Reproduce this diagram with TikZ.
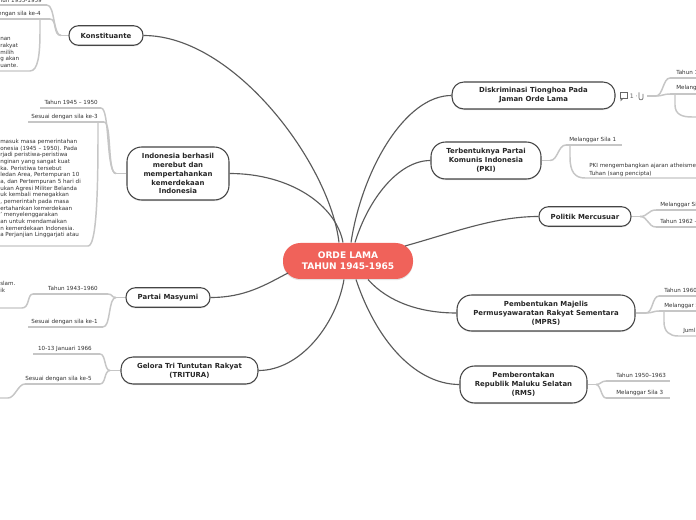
\documentclass[tikz,border=0pt]{standalone}
\usepackage{fontspec}
\setmainfont{DejaVu Sans}
\usetikzlibrary{calc,shadows}
\definecolor{nodeline}{HTML}{454545}
\definecolor{conncol}{HTML}{5A5A5A}
\definecolor{leafc}{HTML}{C6C6C6}
\definecolor{leaft}{HTML}{333333}
\definecolor{central}{HTML}{F0625A}
\newcommand{\mainfnt}{\fontsize{5.2}{6.7}\selectfont\bfseries}
\newcommand{\leaffnt}{\fontsize{4.2}{5}\selectfont}
\begin{document}
\begin{tikzpicture}[x=0.75pt,y=-0.75pt,
 topic/.style={draw=nodeline, line width=0.8pt, fill=white, rounded corners=7pt, align=center, font=\mainfnt, text=black!85, inner sep=0pt, drop shadow={shadow xshift=0pt, shadow yshift=-0.9pt, opacity=0.22}},
 conn/.style={draw=conncol, line width=0.85pt},
 leafline/.style={draw=leafc, line width=1.1pt},
 leaf/.style={font=\leaffnt, text=leaft, inner sep=0pt},
 icon/.style={draw=black!60, line width=0.5pt},
]
\clip (0,0) rectangle (696,520);
\fill[white] (0,0) rectangle (696,520);

% ---------- topics ----------
\node[topic, draw=none, fill=central, text=white, font=\fontsize{6.8}{8.2}\selectfont\bfseries, minimum width=97.5pt, minimum height=27pt, rounded corners=13pt] (C) at (348,261) {ORDE LAMA\\TAHUN 1945-1965};
\node[topic, minimum width=55.5pt, minimum height=14.6pt] (K) at (106,35.5) {Konstituante};
\node[topic, minimum width=76.5pt, minimum height=39.75pt, rounded corners=11pt] (I) at (178,173.5) {Indonesia berhasil\\merebut dan\\mempertahankan\\kemerdekaan\\Indonesia};
\node[topic, minimum width=63pt, minimum height=14.6pt] (M) at (168,297.5) {Partai Masyumi};
\node[topic, minimum width=102.75pt, minimum height=20.25pt, rounded corners=9pt] (T) at (189.5,370.5) {Gelora Tri Tuntutan Rakyat\\(TRITURA)};
\node[topic, minimum width=122.25pt, minimum height=20.25pt, rounded corners=9pt] (D) at (533.5,95.5) {Diskriminasi Tionghoa Pada\\Jaman Orde Lama};
\node[topic, minimum width=82.5pt, minimum height=27.75pt, rounded corners=11pt] (P) at (486,160.5) {Terbentuknya Partai\\Komunis Indonesia\\(PKI)};
\node[topic, minimum width=69pt, minimum height=14.6pt] (PM) at (585,216.5) {Politik Mercusuar};
\node[topic, minimum width=133.5pt, minimum height=27pt, rounded corners=11pt] (MP) at (546,313) {Pembentukan Majelis\\Permusyawaratan Rakyat Sementara\\(MPRS)};
\node[topic, minimum width=95.25pt, minimum height=27.75pt, rounded corners=11pt] (R) at (523.5,384.5) {Pemberontakan\\Republik Maluku Selatan\\(RMS)};

% ---------- main connectors ----------
\draw[conn] ($(C.north)+(-9,0)$) .. controls (330,165) and (235,35.5) .. (K.east);
\draw[conn] ($(C.north)+(-5,0)$) .. controls (336,205) and (290,173.5) .. (I.east);
\draw[conn] ($(C.center)+(-60,12)$) .. controls (265,285) and (245,297.5) .. (M.east);
\draw[conn] ($(C.south)+(-4,0)$) .. controls (336,325) and (300,370.5) .. (T.east);
\draw[conn] ($(C.north)+(3,0)$) .. controls (362,170) and (405,95.5) .. (D.west);
\draw[conn] ($(C.north)+(7,0)$) .. controls (368,200) and (398,160.5) .. (P.west);
\draw[conn] ($(C.center)+(57,-15)$) .. controls (455,232) and (495,216.5) .. (PM.west);
\draw[conn] ($(C.south)+(20,0)$) .. controls (388,302) and (420,313) .. (MP.west);
\draw[conn] ($(C.south)+(8,0)$) .. controls (378,345) and (418,384.5) .. (R.west);

% ---------- Konstituante ----------
\draw[leafline] (K.west) -- (61,35.5) coordinate (Ks);
\coordinate (K1e) at (47,5); \coordinate (K2e) at (50,19);
\draw[leafline] (-5,5) -- (K1e);
\draw[leafline] (-5,19) -- (K2e);
\draw[leafline] (Ks) .. controls (53,35.5) and (55,5) .. (K1e);
\draw[leafline] (Ks) .. controls (53,35.5) and (57,19) .. (K2e);
\draw[leafline] (40,19) -- (40,31) .. controls (40,55) and (38,71) .. (30,71) -- (-5,71);
\node[leaf, anchor=base east] (K1) at (42,2.5) {Tahun 1955-1959};
\node[leaf, anchor=base east] (K2) at (41,15.5) {Sesuai dengan sila ke-4};
\node[leaf, anchor=north west, align=left] (K3) at (0,37.5) {nan\\rakyat\\milih\\g akan\\uante.};

% ---------- Indonesia ----------
\draw[leafline] (I.west) -- (116,173.5) coordinate (Is);
\draw[leafline] (40,108) -- (101,108) coordinate (I1e);
\draw[leafline] (28,122) -- (104,122) coordinate (I2e);
\draw[leafline] (Is) .. controls (106,173.5) and (110,108) .. (I1e);
\draw[leafline] (Is) .. controls (107,173.5) and (112,122) .. (I2e);
\draw[leafline] (98,122) -- (98,134) .. controls (98,200) and (96,246) .. (88,246) -- (-5,246);
\node[leaf, anchor=base east] (I1) at (98,104.5) {Tahun 1945 – 1950};
\node[leaf, anchor=base east] (I2) at (98,118.5) {Sesuai dengan sila ke-3};
\node[leaf, anchor=north west, align=left] (I3) at (0,139) {masuk masa pemerintahan\\onesia (1945 – 1950). Pada\\rjadi peristiwa-peristiwa\\nginan yang sangat kuat\\ka. Peristiwa tersebut\\ledan Area, Pertempuran 10\\a, dan Pertempuran 5 hari di\\ukan Agresi Militer Belanda\\uk kembali menegakkan\\, pemerintah pada masa\\ertahankan kemerdekaan\\' menyelenggarakan\\an untuk mendamaikan\\n kemerdekaan Indonesia.\\a Perjanjian Linggarjati atau};

% ---------- Masyumi ----------
\draw[leafline] (M.west) -- (116,297.5) coordinate (Ms);
\draw[leafline] (33,294) -- (108,294) coordinate (M1e);
\draw[leafline] (28,327) -- (103,327) coordinate (M2e);
\draw[leafline] (Ms) .. controls (111,297.5) and (113,294) .. (M1e);
\draw[leafline] (Ms) .. controls (108,297.5) and (111,327) .. (M2e);
\draw[leafline] (33,294) .. controls (27,294) and (30,308) .. (22,308) -- (-5,308);
\node[leaf, anchor=base east] (M1) at (98,290.5) {Tahun 1943–1960};
\node[leaf, anchor=base east] (M2) at (98,323.5) {Sesuai dengan sila ke-1};
\node[leaf, anchor=north west, align=left] (M3) at (0,281) {slam.\\ik};

% ---------- TRITURA ----------
\draw[leafline] (T.west) -- (110,370.5) coordinate (Ts);
\draw[leafline] (33,354) -- (100,354) coordinate (T1e);
\draw[leafline] (25,384) -- (100,384) coordinate (T2e);
\draw[leafline] (Ts) .. controls (104,370.5) and (106,354) .. (T1e);
\draw[leafline] (Ts) .. controls (104,370.5) and (106,384) .. (T2e);
\draw[leafline] (25,384) .. controls (18,384) and (15,398) .. (8,398) -- (-5,398);
\node[leaf, anchor=base east] (T1) at (92,350.5) {10-13 Januari 1966};
\node[leaf, anchor=base east] (T2) at (92,380.5) {Sesuai dengan sila ke-5};

% ---------- Diskriminasi ----------
\draw[icon] (620,92) rectangle (627,98);
\draw[icon] (621,98) -- (621,100.5) -- (623.5,98);
\node[leaf, font=\fontsize{4.6}{5}\selectfont, text=black!60, anchor=west] (Dn) at (629.5,96) {1 ·};
\draw[icon] (639,92.5) -- (639,98) .. controls (639,100.5) and (643,100.5) .. (643,98) -- (643,94);
\draw[leafline] (647,96) -- (656,96) coordinate (Ds);
\draw[leafline] (670,78) -- (700,78);
\draw[leafline] (670,94) -- (700,94);
\draw[leafline] (Ds) .. controls (663,96) and (663,78) .. (670,78);
\draw[leafline] (Ds) .. controls (663,96) and (663,94) .. (670,94);
\draw[leafline] (675,94) -- (675,105) .. controls (675,115) and (683,117) .. (692,117) -- (700,117);
\node[leaf, anchor=base west] (D1) at (676,74.5) {Tahun 1};
\node[leaf, anchor=base west] (D2) at (676,90) {Melangg};

% ---------- PKI ----------
\draw[leafline] (P.east) -- (550,160.5) coordinate (Ps);
\draw[leafline] (566,145) -- (622,145) coordinate (P1s);
\draw[leafline] (Ps) .. controls (558,160.5) and (558,145) .. (566,145);
\draw[leafline] (570,145) -- (570,157) .. controls (570,172) and (575,178) .. (585,178) -- (700,178);
\node[leaf, anchor=base west] (P1) at (569,141.5) {Melanggar Sila 1};
\node[leaf, anchor=base west] (P2a) at (589,167.5) {PKI mengembangkan ajaran atheisme};
\node[leaf, anchor=base west] (P2b) at (589,175.5) {Tuhan (sang pencipta)};

% ---------- Politik Mercusuar ----------
\draw[leafline] (PM.east) -- (640,216.5) coordinate (PMs);
\draw[leafline] (656,210) -- (700,210);
\draw[leafline] (656,227) -- (700,227);
\draw[leafline] (PMs) .. controls (648,216.5) and (648,210) .. (656,210);
\draw[leafline] (PMs) .. controls (648,216.5) and (648,227) .. (656,227);
\node[leaf, anchor=base west] (PM1) at (660,206.5) {Melanggar Si};
\node[leaf, anchor=base west] (PM2) at (660,223.5) {Tahun 1962 –};

% ---------- MPRS ----------
\draw[leafline] (MP.east) -- (646,313) coordinate (MPs);
\draw[leafline] (659,296) -- (700,296);
\draw[leafline] (659,311) -- (700,311);
\draw[leafline] (MPs) .. controls (653,313) and (652,296) .. (659,296);
\draw[leafline] (MPs) .. controls (653,313) and (653,311) .. (659,311);
\draw[leafline] (664,311) -- (664,322) .. controls (664,332) and (670,336) .. (678,336) -- (700,336);
\node[leaf, anchor=base west] (MP1) at (664,292.5) {Tahun 1960};
\node[leaf, anchor=base west] (MP2) at (664,307.5) {Melanggar S};
\node[leaf, anchor=base west] (MP3) at (683,332.5) {Juml};

% ---------- RMS ----------
\draw[leafline] (R.east) -- (596,384.5) coordinate (Rs);
\draw[leafline] (606,381) -- (670,381);
\draw[leafline] (606,398) -- (670,398);
\draw[leafline] (Rs) .. controls (601,384.5) and (601,381) .. (606,381);
\draw[leafline] (Rs) .. controls (601,384.5) and (601,398) .. (606,398);
\node[leaf, anchor=base west] (R1) at (616,377.5) {Tahun 1950–1963};
\node[leaf, anchor=base west] (R2) at (616,394.5) {Melanggar Sila 3};
\end{tikzpicture}
\end{document}
